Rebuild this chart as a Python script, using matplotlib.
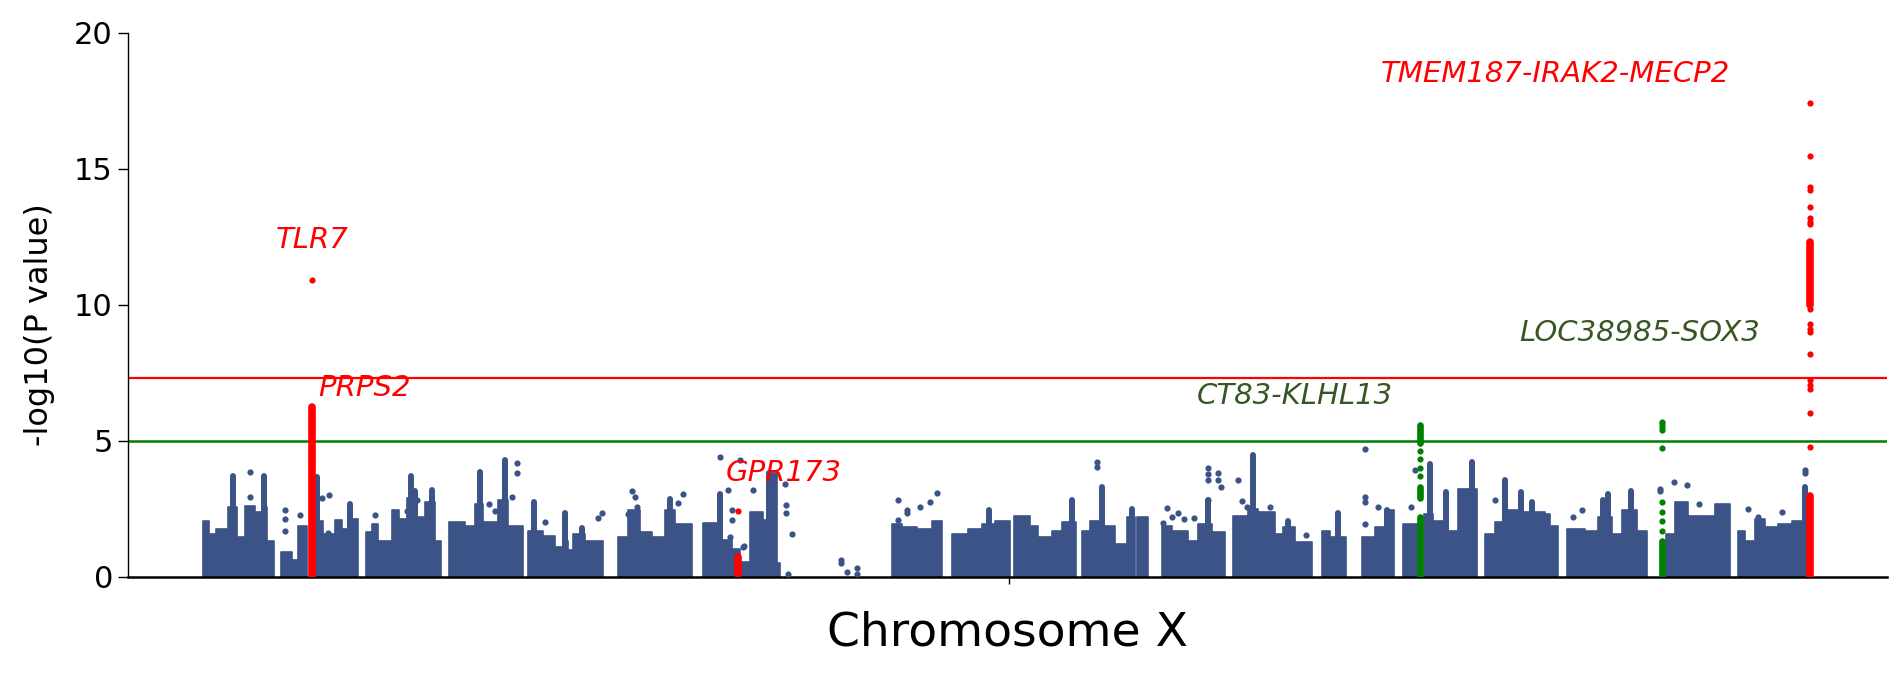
import matplotlib
matplotlib.use('Agg')
import matplotlib.pyplot as plt

# positions are approximate Mb along chromosome X, values are -log10(P)

# dense background of SNPs: (start, end, top of the dense band)
dense_start = [1.33, 1.9, 2.57, 3.83, 4.67, 5.5, 6.5, 7.17, 7.67,
               9.1, 10.17, 10.83,
               12.57, 13.33, 14.5, 15.17, 15.83,
               17.57, 18.17, 18.83, 20.17, 20.9, 21.67, 22.33, 23.5, 24.5,
               25.9, 27.5, 28.5, 29.33, 30.83, 31.83, 32.5,
               33.83, 35.33, 36.5, 37.33, 37.83, 38.33, 39.5,
               42.77, 43.83, 45.0, 46.17, 47.5, 48.5,
               51.27, 52.67, 54.17, 55.0, 56.0, 57.33, 57.83, 58.67,
               70.17, 71.17, 72.67, 74.17,
               76.17, 77.83, 79.17, 80.5,
               82.43, 84.0, 84.83, 86.17, 87.17,
               89.17, 90.0, 91.17, 92.5, 93.67, 94.67,
               97.17, 98.17, 99.83, 100.83, 102.17,
               104.33, 105.83, 106.83, 108.5, 109.33, 110.5,
               113.17, 114.0,
               117.17, 118.5, 119.5,
               121.33,
               123.43, 124.33, 125.5, 126.83,
               129.5, 130.5, 131.83, 133.0, 135.5, 136.0,
               137.67, 139.5, 140.83, 142.17, 143.17, 144.67,
               147.57, 148.5, 149.83, 151.17, 152.5,
               154.77, 155.5, 156.5, 157.5, 158.83, 160.17]
dense_end = [1.9, 2.57, 3.83, 4.67, 5.5, 6.5, 7.17, 7.67, 8.4,
             10.17, 10.83, 11.73,
             13.33, 14.5, 15.17, 15.83, 16.83,
             18.17, 18.83, 20.17, 20.9, 21.67, 22.33, 23.5, 24.5, 25.07,
             27.5, 28.5, 29.33, 30.83, 31.83, 32.5, 33.33,
             35.33, 36.5, 37.33, 37.83, 38.33, 39.5, 41.33,
             43.83, 45.0, 46.17, 47.5, 48.5, 50.17,
             52.67, 54.17, 55.0, 56.0, 57.33, 57.83, 58.67, 59.0,
             71.17, 72.67, 74.17, 75.17,
             77.83, 79.17, 80.5, 82.0,
             84.0, 84.83, 86.17, 87.17, 88.57,
             90.0, 91.17, 92.5, 93.67, 94.5, 95.83,
             98.17, 99.83, 100.83, 102.17, 103.5,
             105.83, 106.83, 108.5, 109.33, 110.5, 112.17,
             114.0, 115.57,
             118.5, 119.5, 120.43,
             122.83,
             124.33, 125.5, 126.83, 128.67,
             130.5, 131.83, 133.0, 135.5, 136.0, 136.83,
             139.5, 140.83, 142.17, 143.17, 144.67, 145.67,
             148.5, 149.83, 151.17, 152.5, 154.0,
             155.5, 156.5, 157.5, 158.83, 160.17, 161.67]
dense_top = [2.06, 1.57, 1.75, 2.55, 1.45, 2.6, 2.37, 2.55, 1.32,
             0.9, 0.6, 1.87,
             2.06, 1.57, 2.08, 1.75, 2.12,
             1.63, 1.94, 1.32, 2.43, 2.12, 2.9, 2.18, 2.73, 1.32,
             2.0, 1.87, 2.67, 2.0, 2.8, 1.87, 1.87,
             1.69, 1.5, 1.08, 1.32, 0.96, 1.57, 1.32,
             1.45, 2.43, 1.63, 1.45, 2.43, 1.94,
             1.95, 1.34, 1.0, 0.55, 2.38, 2.08, 3.8, 0.48,
             1.94, 1.81, 1.75, 2.06,
             1.57, 1.75, 1.94, 2.06,
             2.24, 1.87, 1.45, 1.69, 2.0,
             1.69, 2.06, 1.87, 1.2, 2.2, 2.18,
             1.87, 1.69, 1.32, 1.94, 1.63,
             2.24, 2.5, 2.37, 1.57, 1.81, 1.26,
             1.69, 1.45,
             1.45, 1.81, 2.43,
             1.94,
             2.3, 2.06, 1.69, 3.22,
             1.57, 2.0, 2.43, 2.37, 2.3, 1.87,
             1.75, 1.69, 2.18, 1.57, 2.43, 1.69,
             1.57, 2.73, 2.24, 2.24, 2.67,
             1.69, 1.32, 2.12, 1.81, 1.94, 2.06]

# narrow columns of SNPs rising above the dense band
spike_pos = [4.3, 7.4, 12.7, 16.0, 22.1, 22.5, 24.2, 29.0, 31.5, 34.4, 37.5,
             39.2, 48.0, 53.0, 57.9, 79.9, 88.17, 91.17, 94.17, 101.8, 106.33,
             109.77, 114.77, 119.67, 124.0, 125.57, 128.23, 131.5, 133.1, 134.17,
             141.33, 141.83, 144.1, 161.5]
spike_top = [3.7, 3.7, 3.65, 2.67, 3.7, 3.16, 3.19, 3.84, 4.29, 2.73, 2.33,
             1.8, 2.86, 3.05, 3.8, 2.43, 2.8, 3.28, 2.49, 2.8, 4.48,
             2.06, 2.33, 2.43, 4.14, 3.1, 4.2, 3.55, 3.1, 2.73,
             2.8, 3.04, 3.16, 3.28]

# isolated background SNPs
dot_pos = [5.97, 6.0, 9.5, 9.5, 9.5, 11.03, 13.17, 13.93, 13.83, 18.5, 21.73,
           22.67, 29.9, 30.5, 31.17, 32.17, 32.67, 32.67, 35.5, 40.8, 41.2,
           43.8, 44.17, 44.5, 44.67, 48.83, 49.33,
           53.0, 53.83, 54.17, 54.17, 54.0, 55.4, 55.0, 56.27, 55.33,
           59.5, 59.6, 59.6, 60.17, 59.83,
           65.07, 65.07, 65.73, 66.67, 66.67,
           70.83, 70.77, 71.67, 71.67, 73.0, 74.0, 74.73,
           90.73, 90.73, 97.73, 97.33, 98.23, 98.77, 99.4, 100.37,
           101.83, 101.83, 101.83, 101.83, 102.83, 102.83, 103.1,
           104.83, 105.17, 105.67, 108.0, 111.57,
           117.5, 117.5, 117.5, 117.5, 118.77, 122.1, 122.5,
           130.5, 138.33, 139.17, 147.0, 147.0, 148.43, 149.67, 150.9,
           155.83, 156.83, 159.23, 161.5, 161.5]
dot_val = [3.86, 2.92, 2.43, 2.12, 1.67, 2.28, 2.9, 3.0, 1.6, 2.28, 2.4,
           2.8, 2.67, 2.4, 2.2, 2.94, 4.17, 3.81, 2.0, 2.15, 2.32,
           2.3, 3.16, 2.92, 2.55, 2.7, 3.04,
           4.38, 3.18, 2.45, 2.08, 1.46, 1.13, 4.28, 3.18, 1.1,
           3.42, 2.63, 2.35, 1.56, 0.08,
           0.6, 0.5, 0.15, 0.33, 0.08,
           2.81, 2.08, 2.44, 2.35, 2.57, 2.75, 3.08,
           4.22, 4.01, 2.52, 1.95, 2.18, 2.33, 2.12, 2.16,
           3.98, 3.78, 3.55, 2.81, 3.8, 3.55, 3.3,
           3.55, 2.77, 2.57, 2.55, 1.54,
           4.7, 2.92, 2.73, 1.94, 2.55, 2.55, 3.93,
           2.8, 2.2, 2.45, 3.13, 3.22, 3.46, 3.35, 2.67,
           2.49, 2.18, 2.37, 3.93, 3.82]

# highlighted loci: dense column (pos, bottom, top) plus single SNPs
red_col_pos = [12.15, 54.77, 162.0, 162.0]
red_col_low = [0.0, 0.1, 0.0, 10.0]
red_col_high = [6.25, 0.73, 2.97, 12.3]
red_dot_pos = [12.2, 54.77, 162.0, 162.0, 162.0, 162.0, 162.0, 162.0, 162.0,
               162.0, 162.0, 162.0, 162.0, 162.0, 162.0, 162.0, 162.0, 162.0,
               162.0, 162.0]
red_dot_val = [10.9, 2.42, 17.4, 15.47, 14.32, 14.2, 13.6, 13.2, 13.05, 12.96,
               9.85, 9.28, 9.1, 8.98, 8.17, 7.21, 7.05, 6.9, 6.0, 4.78]

green_col_pos = [123.0, 123.0, 123.0, 147.2]
green_col_low = [0.0, 2.9, 4.9, 0.0]
green_col_high = [2.2, 3.3, 5.57, 1.32]
green_dot_pos = [123.0, 123.0, 123.0, 123.0, 147.2, 147.2, 147.2, 147.2,
                 147.2, 147.2, 147.2, 147.2, 147.2]
green_dot_val = [3.68, 4.0, 4.33, 4.63, 1.69, 2.06, 2.37, 2.73,
                 4.73, 5.4, 5.5, 5.6, 5.68]

gene_labels = ['TLR7', 'PRPS2', 'GPR173', 'CT83-KLHL13', 'LOC38985-SOX3',
               'TMEM187-IRAK2-MECP2']
label_pos = [12.2, 12.8, 53.6, 110.5, 145.0, 136.5]
label_val = [12.37, 6.93, 3.8, 6.64, 8.97, 18.5]
label_colors = ['#ff0000', '#ff0000', '#ff0000', '#375623', '#375623', '#ff0000']
label_ha = ['center', 'left', 'left', 'center', 'center', 'center']

genome_wide = 7.3
suggestive = 5.0

blue = '#3b5387'
fig = plt.figure(figsize=(19.03, 6.8), dpi=100)
ax = fig.add_axes([0.067, 0.1522, 0.9246, 0.7996])

# dense band, edge drawn with round joins so the corners look like dots
widths = [e - s for s, e in zip(dense_start, dense_end)]
ax.bar(dense_start, dense_top, width=widths, align='edge', color=blue,
       edgecolor=blue, linewidth=1.2, joinstyle='round', zorder=2)
ax.vlines(spike_pos, 0, spike_top, color=blue, linewidth=4.3,
          capstyle='round', zorder=2)
ax.scatter(dot_pos, dot_val, s=20, color=blue, linewidths=0, zorder=3)

ax.vlines(red_col_pos, red_col_low, red_col_high, color='#ff0000',
          linewidth=5.5, capstyle='round', zorder=4)
ax.scatter(red_dot_pos, red_dot_val, s=20, color='#ff0000', linewidths=0, zorder=4)
ax.vlines(green_col_pos, green_col_low, green_col_high, color='#008000',
          linewidth=4.8, capstyle='round', zorder=4)
ax.scatter(green_dot_pos, green_dot_val, s=20, color='#008000', linewidths=0, zorder=4)

ax.axhline(genome_wide, color='#ff0000', linewidth=1.6, zorder=1)
ax.axhline(suggestive, color='#008000', linewidth=1.8, zorder=1)

for name, x, y, c, ha in zip(gene_labels, label_pos, label_val, label_colors, label_ha):
    ax.text(x, y, name, color=c, fontsize=21, style='italic', ha=ha,
            va='center', zorder=5)

ax.set_xlim(-6.26, 169.7)
ax.set_ylim(0, 20)
ax.set_xticks([81.9])
ax.set_xticklabels([''])
ax.set_yticks([0, 5, 10, 15, 20])
ax.tick_params(axis='y', labelsize=22, length=7, width=1)
ax.tick_params(axis='x', length=5, width=1)
ax.spines['top'].set_visible(False)
ax.spines['right'].set_visible(False)
ax.spines['bottom'].set_linewidth(1.8)
ax.spines['left'].set_linewidth(1.0)

ax.set_ylabel('-log10(P value)', fontsize=23)
ax.yaxis.set_label_coords(-0.041, 0.463)
ax.set_xlabel('Chromosome X', fontsize=34)
ax.xaxis.set_label_coords(0.5, -0.062)

plt.savefig('out.png', dpi=100)
plt.close()
